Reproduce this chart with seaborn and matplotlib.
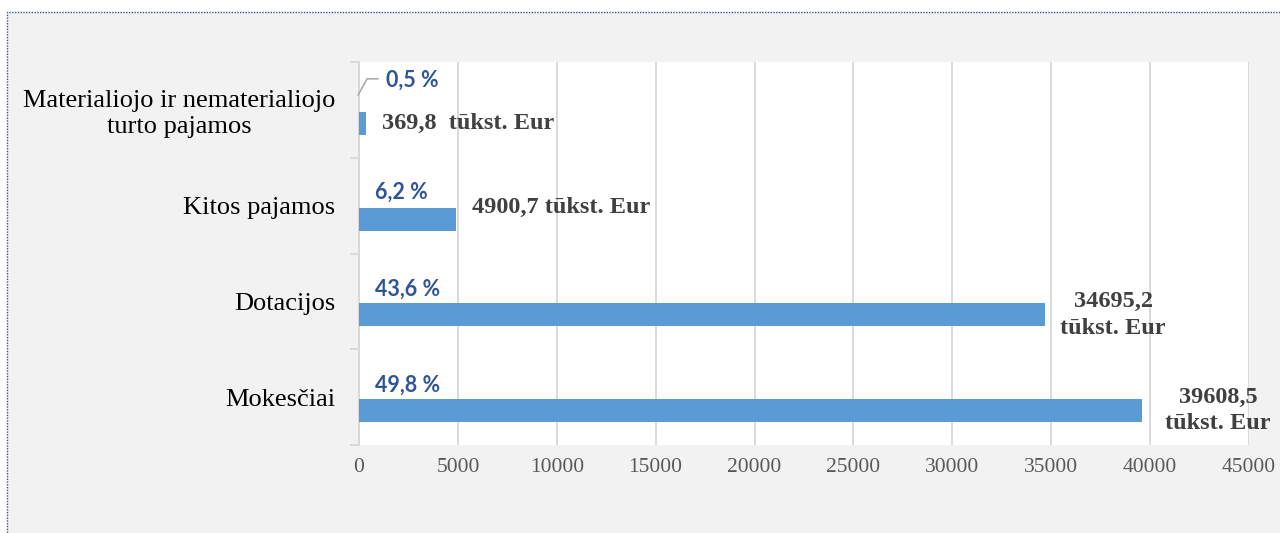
import matplotlib
matplotlib.use("Agg")
import matplotlib.pyplot as plt
import matplotlib.patches as mpatches
import matplotlib.transforms as mtransforms
from matplotlib.ticker import MultipleLocator, FixedLocator
import seaborn as sns
import pandas as pd

# ---- data ----
categories = ["Materialiojo ir nematerialiojo\nturto pajamos", "Kitos pajamos", "Dotacijos", "Mokesčiai"]
values = [369.8, 4900.7, 34695.2, 39608.5]
percent_labels = ["0,5 %", "6,2 %", "43,6 %", "49,8 %"]
value_labels = ["369,8  tūkst. Eur", "4900,7 tūkst. Eur", "34695,2\ntūkst. Eur", "39608,5\ntūkst. Eur"]
x_ticks = [0, 5000, 10000, 15000, 20000, 25000, 30000, 35000, 40000, 45000]

# ---- style / positions (offsets in points) ----
BAR_COLOR = "#5b9bd5"
PCT_COLOR = "#2f5597"
VAL_COLOR = "#404040"
bar_shift = 0.14
bar_height = 0.24
pct_offsets = [(19.5, 31.0), (11.5, 19.0), (11.5, 18.5), (11.5, 18.5)]
val_offsets = [(11.5, 0.0), (11.5, 8.0), (11.0, 0.0), (16.5, 0.0)]

sns.set_theme(style="white")
plt.rcParams["font.family"] = ["Liberation Serif", "DejaVu Serif"]

fig = plt.figure(figsize=(12.8, 5.33), dpi=100, facecolor="white")
bg = mpatches.Rectangle((7 / 1280, -0.05), 1.2, 1 - 12 / 533 + 0.05, transform=fig.transFigure,
                        facecolor="#f2f2f2", edgecolor="#2f5597", linestyle=(0, (1, 1)),
                        linewidth=1.0, zorder=-10)
fig.patches.append(bg)

ax = fig.add_axes([359 / 1280, 1 - 445 / 533, (1249 - 359) / 1280, (445 - 62) / 533])
ax.set_facecolor("white")

df = pd.DataFrame({"category": categories, "value": values})
sns.barplot(data=df, x="value", y="category", orient="h", order=categories,
            color=BAR_COLOR, saturation=1, width=bar_height, ax=ax, zorder=3)
for p in ax.patches:
    p.set_y(p.get_y() + bar_shift)
    p.set_edgecolor("none")

ax.set_xlim(0, 45000)
ax.set_ylim(3.5, -0.5)
ax.set_xlabel("")
ax.set_ylabel("")

# grid
ax.xaxis.set_major_locator(FixedLocator(x_ticks))
ax.grid(axis="x", color="#d9d9d9", linewidth=1.4, zorder=0)
ax.set_axisbelow(True)
ax.tick_params(axis="x", length=0, pad=9, labelsize=15.5, labelcolor="#595959")
ax.set_xticks(x_ticks)
ax.set_xticklabels([str(t) for t in x_ticks])

# y axis
ax.yaxis.set_minor_locator(MultipleLocator(1, offset=0.5))
ax.tick_params(axis="y", which="major", length=0, pad=17, labelsize=19, labelcolor="black")
ax.tick_params(axis="y", which="minor", length=6.5, width=1.4, color="#d9d9d9", left=True)
for lbl in ax.get_yticklabels():
    lbl.set_multialignment("center")
    lbl.set_linespacing(1.2)

for side in ["top", "right", "bottom"]:
    ax.spines[side].set_visible(False)
ax.spines["left"].set_color("#d9d9d9")
ax.spines["left"].set_linewidth(1.4)

# labels
for i, (v, pl, vl) in enumerate(zip(values, percent_labels, value_labels)):
    yc = i + bar_shift
    ax.annotate(pl, xy=(0, yc), xytext=pct_offsets[i], textcoords="offset points",
                ha="left", va="center", color=PCT_COLOR, fontsize=15.5, fontweight="bold",
                family=["Lato", "DejaVu Sans"], zorder=5)
    ax.annotate(vl, xy=(v, yc), xytext=val_offsets[i], textcoords="offset points",
                ha="left", va="center", multialignment="center", color=VAL_COLOR,
                fontsize=17.5, fontweight="bold", linespacing=1.35, zorder=5)

# leader line for the smallest slice label
trans = fig.dpi_scale_trans + mtransforms.ScaledTranslation(0, 0 + bar_shift, ax.transData)
pts = [(-0.7, 20.2), (5.8, 32.0), (13.7, 32.0)]
ax.plot([p[0] / 72 for p in pts], [p[1] / 72 for p in pts], transform=trans,
        color="#a6a6a6", linewidth=1.1, clip_on=False, zorder=5)

fig.savefig("out.png", dpi=100, facecolor=fig.get_facecolor())
